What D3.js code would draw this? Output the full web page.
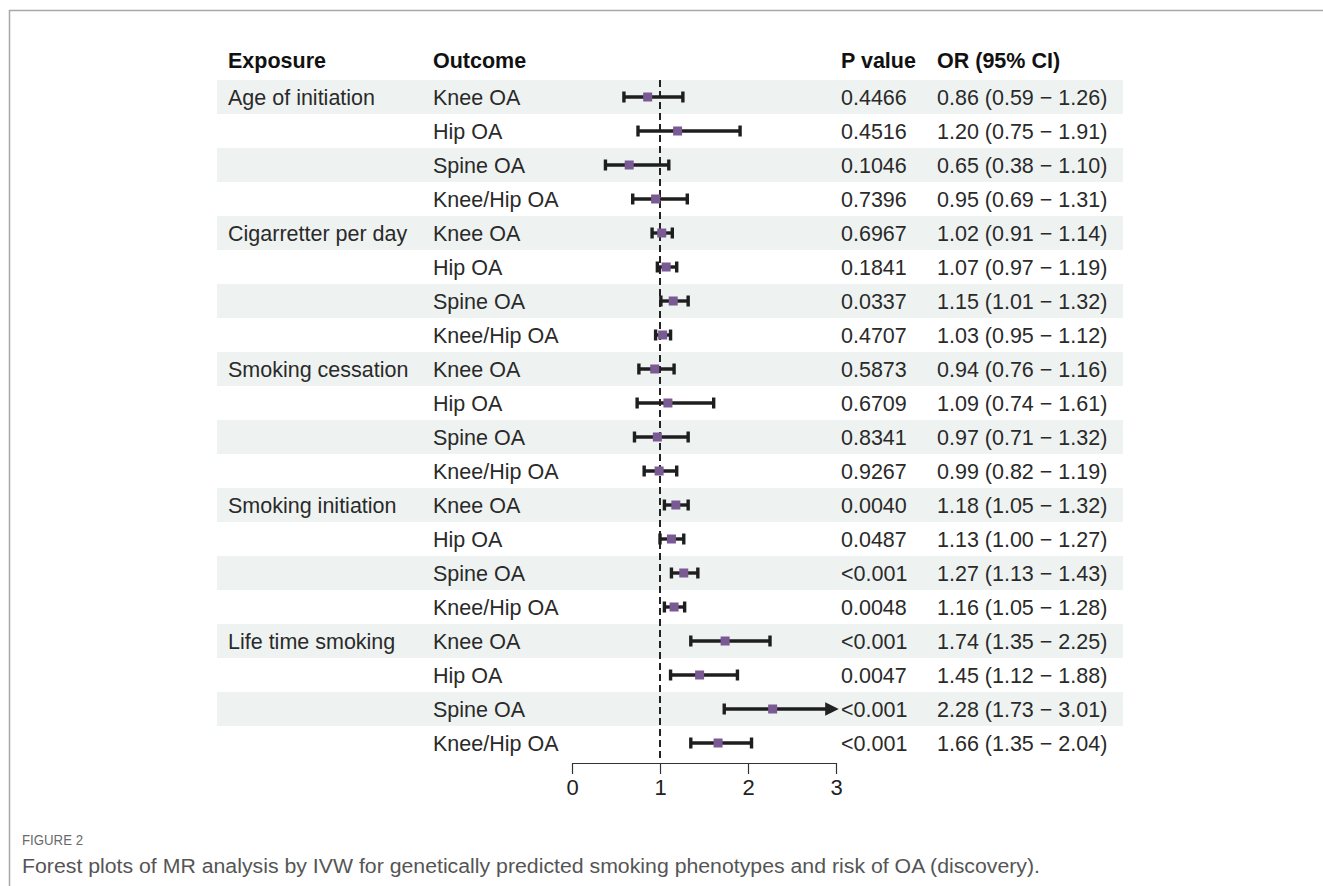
<!DOCTYPE html>
<html>
<head>
<meta charset="utf-8">
<script src="https://cdn.jsdelivr.net/npm/d3@7"></script>
<style>
  html,body{margin:0;padding:0;background:#fff;}
  svg text{font-family:"Liberation Sans",Arial,sans-serif;}
</style>
</head>
<body>
<div id="chart"></div>
<script>
const exposures = ["Age of initiation","Cigarretter per day","Smoking cessation","Smoking initiation","Life time smoking"];
const outcomes = ["Knee OA","Hip OA","Spine OA","Knee/Hip OA"];
const orVals = [0.86,1.20,0.65,0.95, 1.02,1.07,1.15,1.03, 0.94,1.09,0.97,0.99, 1.18,1.13,1.27,1.16, 1.74,1.45,2.28,1.66];
const loVals = [0.59,0.75,0.38,0.69, 0.91,0.97,1.01,0.95, 0.76,0.74,0.71,0.82, 1.05,1.00,1.13,1.05, 1.35,1.12,1.73,1.35];
const hiVals = [1.26,1.91,1.10,1.31, 1.14,1.19,1.32,1.12, 1.16,1.61,1.32,1.19, 1.32,1.27,1.43,1.28, 2.25,1.88,3.01,2.04];
const pVals = ["0.4466","0.4516","0.1046","0.7396","0.6967","0.1841","0.0337","0.4707",
  "0.5873","0.6709","0.8341","0.9267","0.0040","0.0487","<0.001","0.0048",
  "<0.001","0.0047","<0.001","<0.001"];
const axisTicks = [0,1,2,3];

const W = 1323, H = 886;
const svg = d3.select("#chart").append("svg")
  .attr("width",W).attr("height",H);

// frame lines
svg.append("line").attr("x1",9).attr("x2",W).attr("y1",10.5).attr("y2",10.5)
  .attr("stroke","#a8a8a8").attr("stroke-width",1.5);
svg.append("line").attr("x1",9.5).attr("x2",9.5).attr("y1",10).attr("y2",H)
  .attr("stroke","#a8a8a8").attr("stroke-width",1.5);

const rows = [];
orVals.forEach((v,i)=>{
  rows.push({
    idx:i,
    exposure: i%4===0 ? exposures[i/4] : "",
    outcome: outcomes[i%4],
    or:v, lo:loVals[i], hi:hiVals[i], p:pVals[i]
  });
});

const y = d3.scaleBand().domain(d3.range(rows.length)).range([80,760]).padding(0);
const x = d3.scaleLinear().domain([0,3]).range([572,836]);

const colX = {exp:228, out:433, p:841, or:937};

// shaded bands
svg.selectAll(".band")
  .data(rows.filter(d=>d.idx%2===0))
  .enter().append("rect")
  .attr("x",217).attr("width",906)
  .attr("y",d=>y(d.idx)).attr("height",y.bandwidth())
  .attr("fill","#eef3f1");

// headers
const hdr = svg.append("g").attr("font-weight","bold").attr("font-size",21.5).attr("fill","#111");
[["Exposure",colX.exp],["Outcome",colX.out],["P value",colX.p],["OR (95% CI)",colX.or]].forEach(h=>{
  hdr.append("text").attr("x",h[1]).attr("y",68).text(h[0]);
});

const body = svg.append("g").attr("font-size",21.5).attr("fill","#2a2a2a");
const rowG = body.selectAll(".row").data(rows).enter().append("g")
  .attr("transform",d=>"translate(0,"+(y(d.idx)+y.bandwidth()/2)+")");

rowG.append("text").attr("x",colX.exp).attr("dy","0.35em").text(d=>d.exposure);
rowG.append("text").attr("x",colX.out).attr("dy","0.35em").text(d=>d.outcome);
rowG.append("text").attr("x",colX.p).attr("dy","0.35em").text(d=>d.p);
rowG.append("text").attr("x",colX.or).attr("dy","0.35em")
  .text(d=>d.or.toFixed(2)+" ("+d.lo.toFixed(2)+" \u2212 "+d.hi.toFixed(2)+")");

// reference line
svg.append("line")
  .attr("x1",x(1)).attr("x2",x(1))
  .attr("y1",80).attr("y2",758)
  .attr("stroke","#222").attr("stroke-width",2)
  .attr("stroke-dasharray","7,4");

// arrow marker
svg.append("defs").append("marker")
  .attr("id","arr").attr("viewBox","0 0 10 10")
  .attr("refX",5).attr("refY",5)
  .attr("markerWidth",4).attr("markerHeight",4)
  .attr("orient","auto")
  .append("path").attr("d","M0,0L10,5L0,10z").attr("fill","#222");

const ci = svg.append("g");
rows.forEach(d=>{
  const cy = y(d.idx)+y.bandwidth()/2;
  const clipped = d.hi > 3;
  const x2 = clipped ? x(3)-4 : x(d.hi);
  ci.append("line")
    .attr("x1",x(d.lo)).attr("x2",x2)
    .attr("y1",cy).attr("y2",cy)
    .attr("stroke","#1e1e1e").attr("stroke-width",3.4)
    .attr("marker-end",clipped ? "url(#arr)" : null);
  ci.append("line")
    .attr("x1",x(d.lo)).attr("x2",x(d.lo))
    .attr("y1",cy-5.5).attr("y2",cy+5.5)
    .attr("stroke","#1e1e1e").attr("stroke-width",3.4);
  if(!clipped){
    ci.append("line")
      .attr("x1",x(d.hi)).attr("x2",x(d.hi))
      .attr("y1",cy-5.5).attr("y2",cy+5.5)
      .attr("stroke","#1e1e1e").attr("stroke-width",3.4);
  }
  ci.append("rect")
    .attr("x",x(d.or)-4.5).attr("y",cy-4.5)
    .attr("width",9).attr("height",9)
    .attr("fill","#7a5a93");
});

// axis
const axisG = svg.append("g").attr("transform","translate(0,763)");
axisG.call(d3.axisBottom(x).tickValues(axisTicks).tickSize(11).tickSizeOuter(0).tickFormat(d3.format("d")));
axisG.select(".domain").attr("stroke","#333").attr("stroke-width",1.2);
axisG.selectAll(".tick line").attr("stroke","#333").attr("stroke-width",1.2);
axisG.selectAll(".tick text")
  .attr("font-family","Liberation Sans, Arial, sans-serif")
  .attr("font-size",22).attr("fill","#222").attr("y",16);

// caption
svg.append("text").attr("x",22).attr("y",845)
  .attr("font-family","Open Sans, sans-serif").attr("font-size",14)
  .attr("fill","#6a6a6a").attr("textLength",61).attr("lengthAdjust","spacingAndGlyphs")
  .text("FIGURE 2");
svg.append("text").attr("x",22).attr("y",873)
  .attr("font-family","Open Sans, sans-serif").attr("font-size",20)
  .attr("fill","#555").attr("textLength",1018).attr("lengthAdjust","spacingAndGlyphs")
  .text("Forest plots of MR analysis by IVW for genetically predicted smoking phenotypes and risk of OA (discovery).");
</script>
</body>
</html>
